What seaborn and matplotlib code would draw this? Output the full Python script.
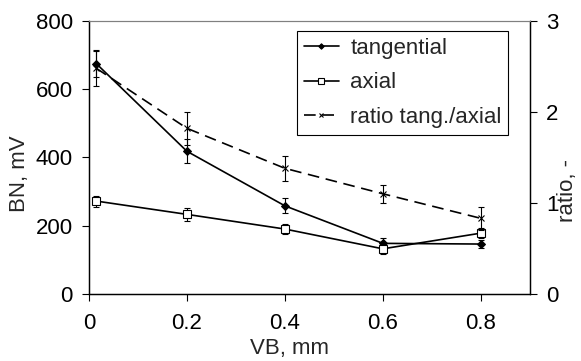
import matplotlib
matplotlib.use("Agg")
import matplotlib.pyplot as plt
import seaborn as sns
import pandas as pd

vb = [0.015, 0.2, 0.4, 0.6, 0.8]
tangential = [675, 418, 258, 148, 146]
tangential_err = [38, 35, 22, 15, 13]
axial = [272, 233, 190, 132, 178]
axial_err = [16, 20, 16, 15, 15]
ratio = [2.48, 1.82, 1.38, 1.10, 0.83]
ratio_err = [0.2, 0.18, 0.14, 0.1, 0.13]

df = pd.DataFrame({"VB": vb, "tangential": tangential, "axial": axial, "ratio": ratio})

sns.set_style("ticks")
plt.rcParams["font.family"] = ["Liberation Sans", "DejaVu Sans"]
fs = 16

fig = plt.figure(figsize=(5.81, 3.61), dpi=100)
ax = fig.add_axes([0.153, 0.186, 0.759, 0.756])
ax2 = ax.twinx()

# error bars first so markers sit on top
ekw = dict(fmt="none", ecolor="black", elinewidth=0.8, capsize=2.5, capthick=0.8)
ax.errorbar(vb, tangential, yerr=tangential_err, **ekw)
ax.errorbar(vb, axial, yerr=axial_err, **ekw)
ax2.errorbar(vb, ratio, yerr=ratio_err, **ekw)

sns.lineplot(data=df, x="VB", y="tangential", ax=ax, color="black", lw=1.2,
             marker="D", markersize=4, markerfacecolor="black",
             markeredgecolor="black", label="tangential", legend=False)
sns.lineplot(data=df, x="VB", y="axial", ax=ax, color="black", lw=1.2,
             marker="s", markersize=5.5, markerfacecolor="white",
             markeredgecolor="black", markeredgewidth=0.8, label="axial", legend=False)
sns.lineplot(data=df, x="VB", y="ratio", ax=ax2, color="black", lw=1.2,
             linestyle=(0, (7, 4)), marker="x", markersize=5,
             markeredgecolor="black", markeredgewidth=0.8,
             label="ratio tang./axial", legend=False)

ax.set_xlim(0, 0.9)
ax.set_ylim(0, 800)
ax2.set_ylim(0, 3)
ax.set_xticks([0, 0.2, 0.4, 0.6, 0.8])
ax.set_xticklabels(["0", "0.2", "0.4", "0.6", "0.8"])
ax.set_yticks([0, 200, 400, 600, 800])
ax2.set_yticks([0, 1, 2, 3])

ax.set_xlabel("VB, mm", fontsize=fs)
ax.set_ylabel("BN, mV", fontsize=fs)
ax2.set_ylabel("ratio, -", fontsize=fs)
ax.xaxis.set_label_coords(0.456, -0.16)
ax.yaxis.set_label_coords(-0.134, 0.44)
ax2.yaxis.set_label_coords(1.061, 0.377)

for a in (ax, ax2):
    a.tick_params(direction="out", length=5, width=0.8, colors="black",
                  labelsize=fs, pad=6.5)
    for s in ("left", "right", "bottom"):
        a.spines[s].set_visible(True)
        a.spines[s].set_color("black")
        a.spines[s].set_linewidth(0.9)
    a.spines["top"].set_visible(True)
    a.spines["top"].set_color("#808080")
    a.spines["top"].set_linewidth(0.8)
ax.tick_params(axis="x", pad=9)

h1, l1 = ax.get_legend_handles_labels()
h2, l2 = ax2.get_legend_handles_labels()
leg = ax2.legend(h1 + h2, l1 + l2, loc="upper left",
                 bbox_to_anchor=(0.472, 0.963), frameon=True, fancybox=False,
                 edgecolor="black", framealpha=1, fontsize=fs,
                 handlelength=1.6, handletextpad=0.5, borderpad=0.3,
                 borderaxespad=0, labelspacing=0.62, markerscale=0.7)
leg.get_frame().set_linewidth(0.8)

fig.savefig("out.png", dpi=100)
